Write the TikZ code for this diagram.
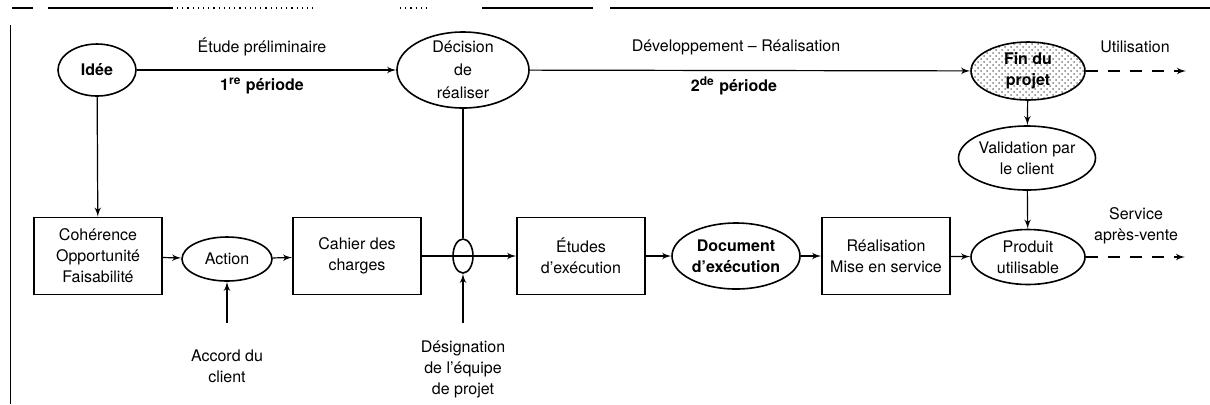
\documentclass[tikz,border=0pt]{standalone}
\usepackage{fontspec}
\setmainfont{TeX Gyre Heros}
\usetikzlibrary{arrows,shapes.geometric,patterns}
\newcommand{\diagfont}{\fontsize{8}{10.5}\selectfont}
\tikzset{box/.style = {shape=rectangle,draw,thick,minimum width=64pt,minimum height=38.5pt,align=center}}
\tikzset{oval/.style = {shape=ellipse,draw,thick,inner sep=0pt,align=center}}
\tikzset{heavy/.style = {font=\diagfont\bfseries}}
\tikzset{edge/.style = {->,> = latex',semithick}}
\tikzset{future/.style = {edge,dash pattern=on 6pt off 5pt}}

\begin{document}
\begin{tikzpicture}[x=0.5pt,y=-0.5pt,font=\diagfont]
		\useasboundingbox (0,0) rectangle (1210,404);
		% frame
		\draw[semithick] (12,8) -- (33,8);
		\draw[semithick] (48,8) -- (173,8);
		\draw[semithick,dotted] (177,8) -- (317,8);
		\draw[semithick,dotted] (400,8) -- (430,8);
		\draw[semithick] (482,8) -- (593,8);
		\draw[semithick] (610,8) -- (1210,8);
		\draw[thin] (10,25) -- (10,404);

		% vertices
		\node[oval,heavy,minimum width=39pt,minimum height=26pt] (idee) at (97,70) {Idée};
		\node[oval,minimum width=66pt,minimum height=38pt,inner ysep=-3pt,font=\fontsize{8}{11.5}\selectfont] (decision) at (463,70) {Décision\\de\\réaliser};
		\node[oval,heavy,minimum width=57pt,minimum height=29pt,pattern=crosshatch dots,pattern color=gray] (fin) at (1028,71) {Fin du\\projet};
		\node[oval,minimum width=64pt,minimum height=32pt] (validation) at (1027,158) {Validation par\\le client};
		\node[oval,minimum width=57pt,minimum height=27.5pt] (produit) at (1028,257) {Produit\\utilisable};
		\node[box] (coherence) at (98,256) {Cohérence\\Opportunité\\Faisabilité};
		\node[oval,minimum width=45pt,minimum height=22pt] (action) at (227,259) {Action};
		\node[box] (cahier) at (357,256) {Cahier des\\charges};
		\node[oval,minimum width=10pt,minimum height=17pt] (equipe) at (463,256) {};
		\node[box] (etudes) at (581,256) {Études\\d'exécution};
		\node[oval,heavy,minimum width=64pt,minimum height=33pt] (document) at (736,256) {Document\\d'exécution};
		\node[box] (realisation) at (886,256) {Réalisation\\Mise en service};

		% labels
		\node (prelim) at (262,47) {Étude préliminaire};
		\node[heavy] (periode1) at (262,86) {1\textsuperscript{re} période};
		\node (developpement) at (736,47) {Développement – Réalisation};
		\node[heavy] (periode2) at (734,86) {2\textsuperscript{de} période};
		\node (utilisation) at (1135,47) {Utilisation};
		\node[align=center] (apresvente) at (1136,226) {Service\\après-vente};
		\node[align=center] (accord) at (227,366) {Accord du\\client};
		\node[align=center] (designation) at (463,369) {Désignation\\de l'équipe\\de projet};

		\coordinate (utilend) at (1186,71);
		\coordinate (savend) at (1185,257);
		\coordinate (accordend) at (227,323);
		\coordinate (equipeend) at (463,323);

		%edges
		\draw[edge] (idee) to (decision);
		\draw[edge] (decision) to (fin);
		\draw[future] (fin) to (utilend);
		\draw[edge] (fin) to (validation);
		\draw[edge] (validation) to (produit);
		\draw[future] (produit) to (savend);
		\draw[edge] (idee) to (coherence);
		\draw[edge] (coherence) to (action);
		\draw[edge] (action) to (cahier);
		\draw[edge] (accordend) to (action);
		\draw[edge] (cahier) to (etudes);
		\draw[semithick] (decision) to (equipe);
		\draw[edge] (equipeend) to (equipe);
		\draw[edge] (etudes) to (document);
		\draw[edge] (document) to (realisation);
		\draw[edge] (realisation) to (produit);
	\end{tikzpicture}
\end{document}
